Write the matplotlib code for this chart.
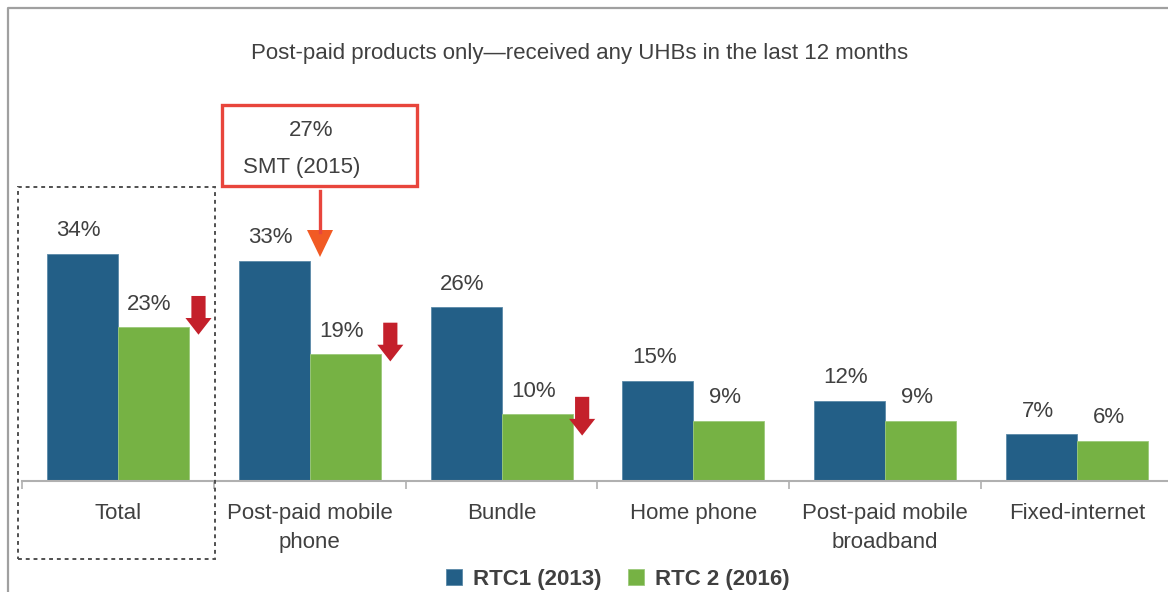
import numpy as np
import matplotlib
matplotlib.use('Agg')
import matplotlib.pyplot as plt
from matplotlib.patches import Rectangle, Polygon
from matplotlib.lines import Line2D

plt.rcParams['font.family'] = ['Liberation Sans', 'DejaVu Sans']

categories = ['Total', 'Post-paid mobile\nphone', 'Bundle', 'Home phone',
              'Post-paid mobile\nbroadband', 'Fixed-internet']
rtc1_2013 = [34, 33, 26, 15, 12, 7]
rtc2_2016 = [23, 19, 10, 9, 9, 6]
series_names = ['RTC1 (2013)', 'RTC 2 (2016)']
smt_2015 = 27
title = 'Post-paid products only\u2014received any UHBs in the last 12 months'

# categories that got the red "down" arrow, and where the arrow starts (in %)
drop_idx = [0, 1, 2]
drop_top = [27.7, 23.7, 12.6]

W, H = 1168, 592
FS = 16
blue = '#235f87'
green = '#76b244'
txt = '#404040'

fig = plt.figure(figsize=(W / 100, H / 100), dpi=100)


def fx(x):
    return x / W


def fy(y):
    return 1 - y / H


ax = fig.add_axes([fx(22), fy(481), 1151 / W, 40 * 6.68 / H])
x = np.arange(len(categories))
bw = 0.37
ax.bar(x - bw / 2, rtc1_2013, bw, color=blue, edgecolor='#5b89a8', linewidth=0.6,
       label=series_names[0])
ax.bar(x + bw / 2, rtc2_2016, bw, color=green, edgecolor='#9cc97a', linewidth=0.6,
       label=series_names[1])

for i in range(len(categories)):
    ax.annotate(f'{rtc1_2013[i]}%', (x[i] - bw / 2 - 0.02, rtc1_2013[i]), xytext=(0, 9),
                textcoords='offset points', ha='center', va='bottom', fontsize=FS, color=txt)
    ax.annotate(f'{rtc2_2016[i]}%', (x[i] + bw / 2 - 0.02, rtc2_2016[i]), xytext=(0, 9),
                textcoords='offset points', ha='center', va='bottom', fontsize=FS, color=txt)

# red down arrows
for i, top in zip(drop_idx, drop_top):
    cx = x[i] + 0.42
    sw, hw = 0.037, 0.068
    hs = top - 3.3
    tip = top - 5.8
    pts = [(cx - sw, top), (cx + sw, top), (cx + sw, hs), (cx + hw, hs),
           (cx, tip), (cx - hw, hs), (cx - sw, hs)]
    ax.add_patch(Polygon(pts, closed=True, color='#c4202b', lw=0))

ax.set_xlim(-0.5, len(categories) - 0.5)
ax.set_ylim(0, 40)
for s in ['left', 'right', 'top']:
    ax.spines[s].set_visible(False)
ax.spines['bottom'].set_color('#b0b0b0')
ax.spines['bottom'].set_linewidth(1.5)
ax.set_yticks([])
ax.set_xticks(x)
ax.set_xticklabels(categories, fontsize=FS, color=txt, linespacing=1.5)
ax.tick_params(axis='x', which='major', length=0, pad=16)
ax.set_xticks(np.arange(len(categories) + 1) - 0.5, minor=True)
ax.tick_params(axis='x', which='minor', length=6, width=1.2, color='#b0b0b0')

fig.text(fx(580), fy(54), title, ha='center', va='center', fontsize=FS, color=txt)

# SMT (2015) call-out box
fig.add_artist(Rectangle((fx(222), fy(186)), 195 / W, 81 / H, transform=fig.transFigure,
                         fill=False, edgecolor='#e8453c', lw=2.4))
fig.text(fx(311), fy(131), f'{smt_2015}%', ha='center', va='center', fontsize=FS, color=txt)
fig.text(fx(302), fy(168), 'SMT (2015)', ha='center', va='center', fontsize=FS, color=txt)
fig.add_artist(Line2D([fx(320), fx(320)], [fy(191), fy(232)], transform=fig.transFigure,
                      color='#e8453c', lw=2.4))
fig.add_artist(Polygon([(fx(307), fy(230)), (fx(333), fy(230)), (fx(320), fy(257))],
                       closed=True, transform=fig.transFigure, color='#f15a24', lw=0))

# dotted box around Total
fig.add_artist(Rectangle((fx(18), fy(559)), 197 / W, 372 / H, transform=fig.transFigure,
                         fill=False, edgecolor='#505050', lw=1.4, linestyle=(0, (2, 2))))

# outer frame (partly cut off)
fig.add_artist(Line2D([fx(8), fx(8), fx(1168)], [fy(592), fy(8), fy(8)],
                      transform=fig.transFigure, color='#a0a0a0', lw=1.6))

fig.legend(loc='center', bbox_to_anchor=(fx(618), fy(579)), ncol=2, frameon=False,
           prop={'weight': 'bold', 'size': FS}, labelcolor=txt, handlelength=0.7,
           handleheight=0.7, handletextpad=0.5, columnspacing=1.2)

fig.savefig('out.png', dpi=100)
